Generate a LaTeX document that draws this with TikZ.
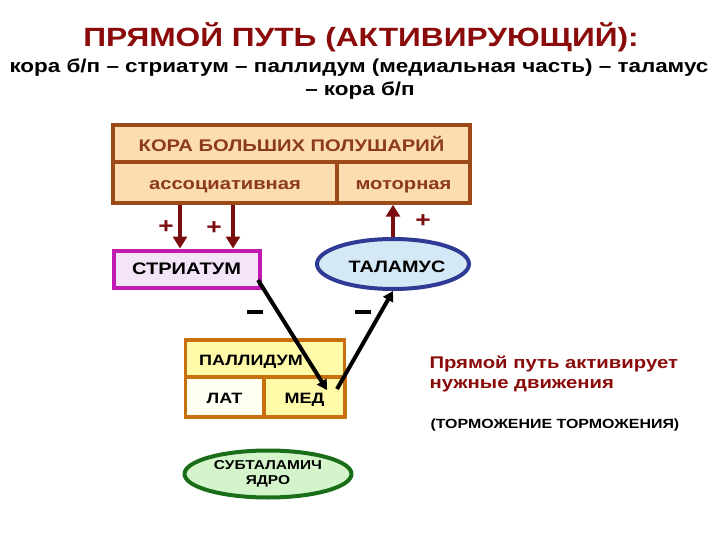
\documentclass[tikz,border=0pt]{standalone}
\usepackage{fontspec}
\setmainfont{Liberation Sans}[FakeStretch=1.2]
\usetikzlibrary{arrows.meta,shapes.geometric,calc}
\definecolor{titlered}{HTML}{8B0A0A}
\definecolor{cortexbrd}{HTML}{9C4A1A}
\definecolor{cortexfill}{HTML}{FCDDB0}
\definecolor{cortextxt}{HTML}{8B3A1A}
\definecolor{arrowred}{HTML}{7A0E0E}
\definecolor{strbrd}{HTML}{C41AB4}
\definecolor{strfill}{HTML}{F3E4F8}
\definecolor{thalbrd}{HTML}{2E3A94}
\definecolor{thalfill}{HTML}{D5E8F5}
\definecolor{palbrd}{HTML}{C8700E}
\definecolor{palfill}{HTML}{FFFBA8}
\definecolor{latfill}{HTML}{FFFFF4}
\definecolor{subbrd}{HTML}{1A6E1A}
\definecolor{subfill}{HTML}{D4F5CC}
\tikzset{
  cortexcell/.style={draw=cortexbrd,fill=cortexfill,line width=3.5pt,inner sep=0pt,text=cortextxt,font=\bfseries\fontsize{16.8}{18}\selectfont},
  palcell/.style={draw=palbrd,line width=3.5pt,inner sep=0pt,font=\bfseries\fontsize{15}{16}\selectfont},
  redarrow/.style={draw=arrowred,line width=4pt,-{Triangle[width=14pt,length=12pt]}},
  blackarrow/.style={draw=black,line width=4pt,-{Triangle[width=11pt,length=10pt]}},
  sign/.style={font=\bfseries\fontsize{22}{22}\selectfont,inner sep=0pt},
}
\begin{document}
\begin{tikzpicture}[x=1pt,y={(0pt,-1pt)}]
\useasboundingbox (0,0) rectangle (720,540);
% titles
\node[font=\bfseries\fontsize{26.4}{28}\selectfont,text=titlered] (title) at (361,37) {ПРЯМОЙ ПУТЬ (АКТИВИРУЮЩИЙ):};
\node[font=\bfseries\fontsize{18.7}{20}\selectfont] (sub1) at (359,68) {кора б/п – стриатум – паллидум (медиальная часть) – таламус};
\node[font=\bfseries\fontsize{18.7}{20}\selectfont] (sub2) at (360,91) {– кора б/п};
% cortex
\node[cortexcell,minimum width=357pt,minimum height=37pt] (ctop) at (291.5,143.5) {КОРА БОЛЬШИХ ПОЛУШАРИЙ};
\node[cortexcell,minimum width=224pt,minimum height=41pt,text height=14pt,text depth=0pt] (assoc) at (225,182.5) {ассоциативная};
\node[cortexcell,minimum width=133pt,minimum height=41pt,text height=14pt,text depth=0pt] (motor) at (403.5,182.5) {моторная};
% striatum
\node[draw=strbrd,fill=strfill,line width=4pt,minimum width=146pt,minimum height=37pt,inner sep=0pt,font=\bfseries\fontsize{16.7}{18}\selectfont] (striatum) at (186.5,269) {СТРИАТУМ};
% thalamus
\node[ellipse,draw=thalbrd,fill=thalfill,line width=4pt,minimum width=152pt,minimum height=50pt,inner sep=0pt,text height=17.5pt,text depth=0pt,font=\bfseries\fontsize{16.5}{18}\selectfont] (thal) at (393,264) {\hspace*{8pt}ТАЛАМУС};
% pallidum
\node[palcell,fill=palfill,minimum width=159pt,minimum height=37pt] (paltop) at (265,358.5) {};
\node[anchor=west,inner sep=0pt,text height=13.7pt,text depth=0pt,font=\bfseries\fontsize{15}{16}\selectfont] (paltext) at (199,358.5) {ПАЛЛИДУМ};
\node[palcell,fill=latfill,minimum width=78pt,minimum height=40pt,text height=12.7pt,text depth=0pt] (lat) at (224.5,397) {ЛАТ};
\node[palcell,fill=palfill,minimum width=81pt,minimum height=40pt,text height=12.7pt,text depth=0pt] (med) at (304.5,397) {МЕД};
% subthalamic
\node[ellipse,draw=subbrd,fill=subfill,line width=4pt,minimum width=167pt,minimum height=47pt,inner sep=0pt,align=center,font=\bfseries\fontsize{12.9}{15}\selectfont] (subth) at (268,474) {СУБТАЛАМИЧ\\ЯДРО};
% red arrows
\draw[redarrow] (assoc.south -| 180,0) -- (striatum.north -| 180,0);
\draw[redarrow] (assoc.south -| 233,0) -- (striatum.north -| 233,0);
\draw[redarrow] (thal.north) -- (motor.south -| thal.north);
\node[sign,text=arrowred] (p1) at (166,227) {+};
\node[sign,text=arrowred] (p2) at (214,228) {+};
\node[sign,text=arrowred] (p3) at (423,221) {+};
% black arrows
\coordinate (s1) at (258,280);
\coordinate (m1) at (327,390);
\coordinate (m2) at (337,389);
\draw[blackarrow] (s1) -- (m1);
\draw[blackarrow] (m2) -- (thal.south);
\node[inner sep=0pt] (mi1) at (255,312) {\rule{16pt}{4pt}};
\node[inner sep=0pt] (mi2) at (362.5,312) {\rule{16pt}{4pt}};
% notes
\node[anchor=west,align=left,text=titlered,font=\bfseries\fontsize{16.9}{20}\selectfont] (note) at (426,374) {Прямой путь активирует\\нужные движения};
\node[anchor=west,font=\bfseries\fontsize{13.3}{15}\selectfont] (note2) at (427,425) {(ТОРМОЖЕНИЕ ТОРМОЖЕНИЯ)};
\end{tikzpicture}
\end{document}
